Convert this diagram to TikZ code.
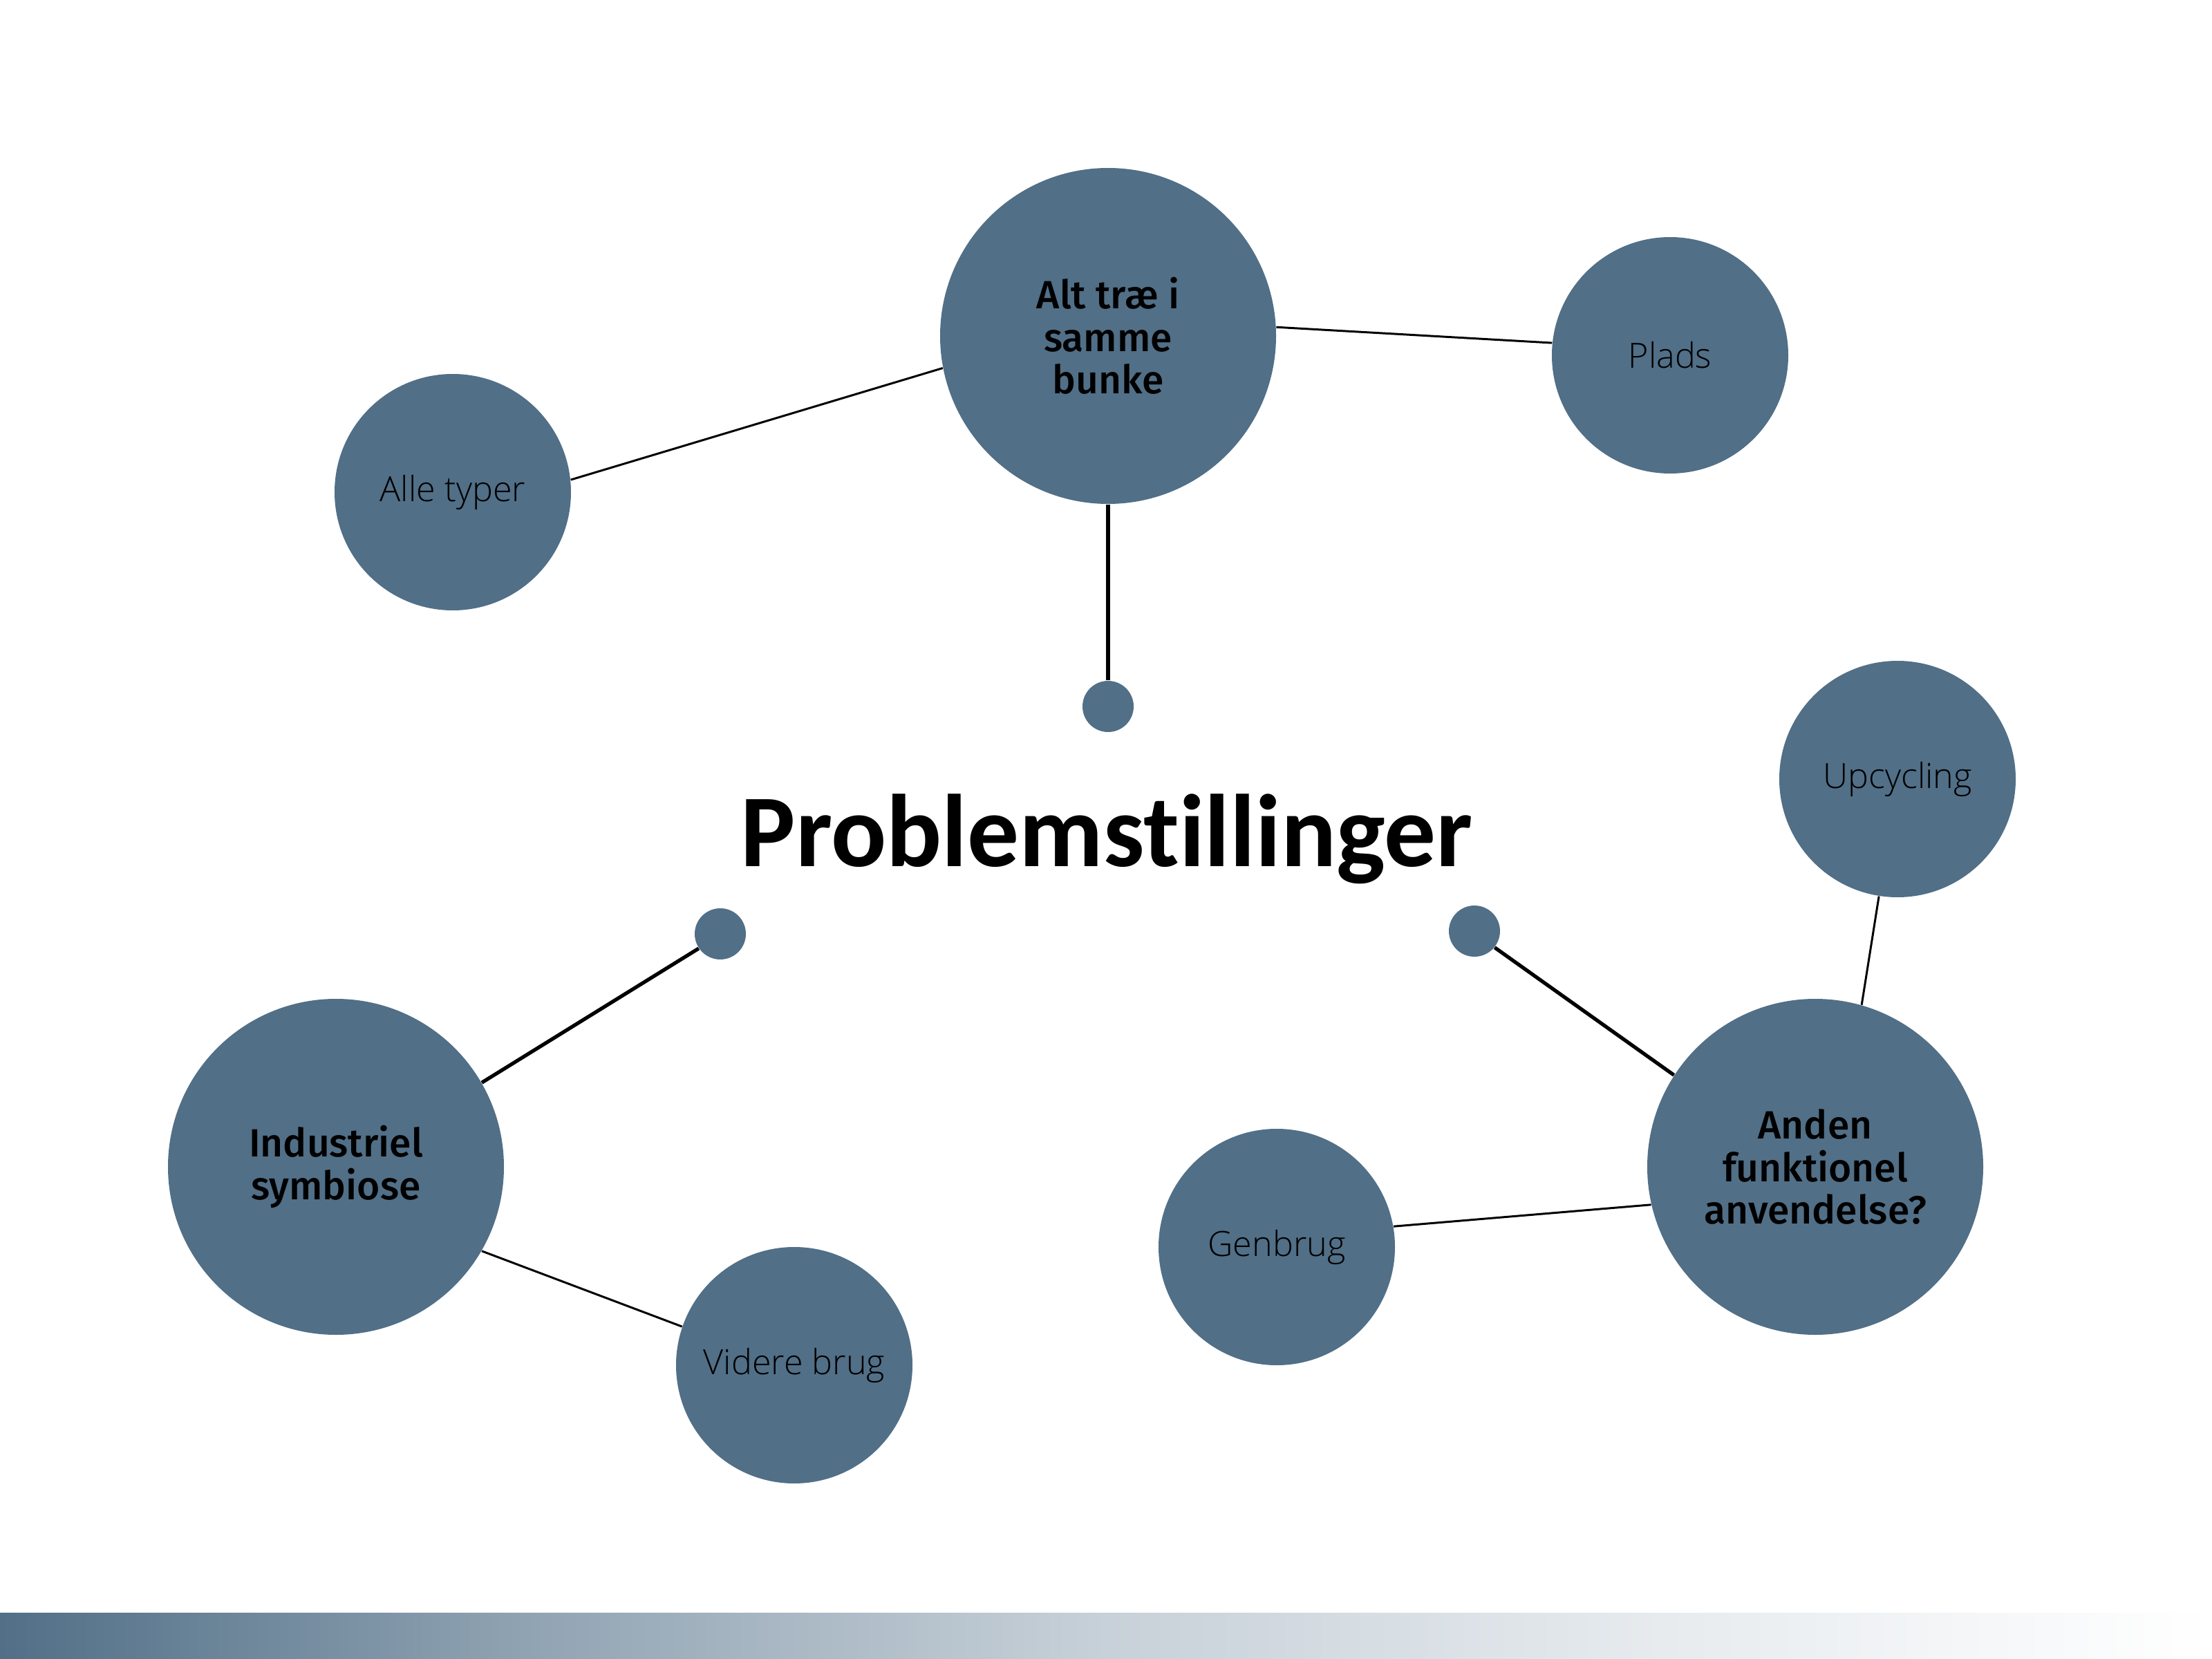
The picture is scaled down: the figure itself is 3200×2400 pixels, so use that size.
\documentclass[tikz,border=0pt]{standalone}
\usepackage{fontspec}
\setmainfont{Open Sans}
\newfontfamily\lightfont{Open Sans}[UprightFont=* Light]
\newfontfamily\medfont{Fira Sans}[UprightFont=* Medium]
\newfontfamily\titlefont{Carlito}[UprightFont=* Bold, Ligatures=NoCommon]
\definecolor{blob}{HTML}{516F87}
\pgfdeclarehorizontalshading{barshade}{100bp}{color(0bp)=(blob); color(25bp)=(blob); color(37.5bp)=(blob!62); color(50bp)=(blob!32); color(62.5bp)=(blob!14); color(75bp)=(white); color(100bp)=(white)}
\tikzset{
  bigc/.style={circle, fill=blob, minimum size=48.6mm, inner sep=0pt, align=center, font=\medfont\fontsize{16.2}{17.5}\selectfont},
  smallc/.style={circle, fill=blob, minimum size=34.2mm, inner sep=0pt, align=center, font=\lightfont\fontsize{14.3}{16}\selectfont},
  dotc/.style={circle, fill=blob, minimum size=7.4mm, inner sep=0pt},
  thinl/.style={line width=0.85pt, black},
  thickl/.style={line width=1.5pt, black}
}
\begin{document}
\begin{tikzpicture}[x=0.1mm, y=-0.1mm]
\useasboundingbox[fill=white] (0,0) rectangle (3200,2400);
\shade[shading=barshade] (0,2333) rectangle (3200,2400);
% nodes
\node[bigc] (alt) at (1603,486) {Alt træ i\\samme\\bunke};
\node[smallc] (plads) at (2416,514) {Plads};
\node[smallc] (alle) at (655,712) {Alle typer};
\node[dotc] (dtop) at (1603,1022) {};
\node[dotc] (dleft) at (1042,1351) {};
\node[dotc] (dright) at (2133,1347) {};
\node[bigc] (ind) at (486,1688) {Industriel\\symbiose};
\node[smallc] (videre) at (1149,1975) {Videre brug};
\node[smallc] (genbrug) at (1847,1804) {Genbrug};
\node[bigc] (anden) at (2626,1688) {Anden\\funktionel\\anvendelse?};
\node[smallc] (upc) at (2745,1127) {Upcycling};
\node[anchor=base, font=\titlefont\fontsize{42.5}{46}\selectfont] (title) at (1601,1253) {Problemstillinger};
% connectors
\draw[thinl] (alle.6) -- (alt.191);
\draw[thinl] (alt.3) -- (plads.174);
\draw[thickl] (alt.270) -- (dtop.90);
\draw[thickl] (ind.30) -- (dleft.214);
\draw[thinl] (ind.-30) -- (videre.161);
\draw[thickl] (anden.147) -- (dright.321);
\draw[thinl] (anden.193) -- (genbrug.10);
\draw[thinl] (anden.74) -- (upc.261);
\end{tikzpicture}
\end{document}
